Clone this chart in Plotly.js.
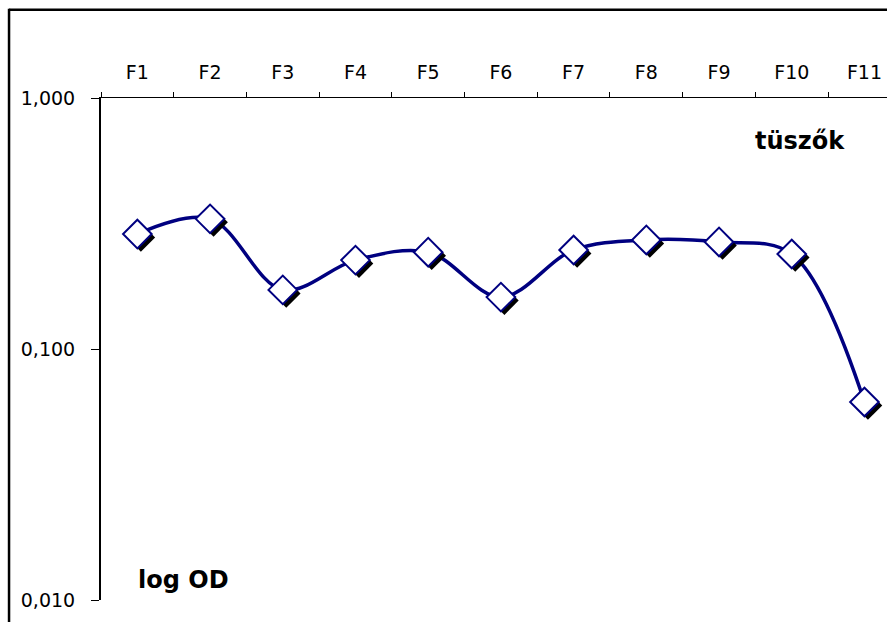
<!DOCTYPE html>
<html>
<head>
<meta charset="utf-8">
<script src="https://cdn.plot.ly/plotly-3.0.1.min.js"></script>
<style>html,body{margin:0;padding:0;background:#fff;}#chart{width:887px;height:622px;}</style>
</head>
<body>
<div id="chart"></div>
<script>
const categories = ["F1","F2","F3","F4","F5","F6","F7","F8","F9","F10","F11"];
const odValues = [0.287, 0.330, 0.172, 0.226, 0.243, 0.161, 0.248, 0.272, 0.267, 0.239, 0.0615];
const yTickVals = [0.01, 0.1, 1];
const yTickText = ["0,010", "0,100", "1,000"];

const tickFont = "DejaVu Sans, Liberation Sans, Arial, sans-serif";
const boldFont = "DejaVu Sans, Liberation Sans, Arial, sans-serif";
const xRange = [-0.5, 10.31];
const yRange = [-2, 0];
const dx = 3.5 / 72.7;   // shadow offset right
const dy = 3.5 / 251;    // shadow offset down (log decades)

const traces = [
  {
    x: categories, y: odValues, type: "scatter", mode: "lines",
    line: {color: "#000080", width: 3.5, shape: "spline", smoothing: 1},
    hoverinfo: "skip", showlegend: false
  },
  {
    x: categories, y: odValues, type: "scatter", mode: "markers",
    xaxis: "x2", yaxis: "y2",
    marker: {symbol: "diamond", size: 22, color: "#000000", line: {width: 0}},
    hoverinfo: "skip", showlegend: false
  },
  {
    x: categories, y: odValues, type: "scatter", mode: "markers",
    xaxis: "x3", yaxis: "y3",
    marker: {symbol: "diamond", size: 22, color: "#ffffff", line: {color: "#000080", width: 2}},
    hoverinfo: "skip", showlegend: false
  }
];

const layout = {
  width: 887, height: 622,
  margin: {l: 101, r: 0, t: 98, b: 22, pad: 0},
  paper_bgcolor: "#ffffff", plot_bgcolor: "#ffffff",
  separators: ",.",
  showlegend: false,
  xaxis: {
    type: "category", side: "top", range: xRange,
    showline: true, linecolor: "#000", linewidth: 1.5,
    ticks: "outside", tickson: "boundaries", ticklen: 5, tickcolor: "#000", tickwidth: 1,
    showgrid: false, zeroline: false,
    tickfont: {family: tickFont, size: 19, color: "#000"},
    ticklabelstandoff: 10
  },
  yaxis: {
    type: "log", range: yRange,
    showline: true, linecolor: "#000", linewidth: 2,
    ticks: "outside", ticklen: 8, tickcolor: "#000", tickwidth: 1,
    tickvals: yTickVals, ticktext: yTickText,
    showgrid: false, zeroline: false,
    tickfont: {family: tickFont, size: 19, color: "#000"},
    ticklabelstandoff: 12
  },
  xaxis2: {type: "category", overlaying: "x", range: [xRange[0] - dx, xRange[1] - dx], visible: false, side: "top"},
  yaxis2: {type: "log", overlaying: "y", range: [yRange[0] + dy, yRange[1] + dy], visible: false},
  xaxis3: {type: "category", overlaying: "x", range: xRange, visible: false, side: "top"},
  yaxis3: {type: "log", overlaying: "y", range: yRange, visible: false},
  annotations: [
    {text: "<b>tüszők</b>", xref: "paper", yref: "paper", x: 0.889, y: 0.915, xanchor: "center", yanchor: "middle",
     showarrow: false, font: {family: boldFont, size: 24, color: "#000"}},
    {text: "<b>log OD</b>", xref: "paper", yref: "paper", x: 0.105, y: 0.04, xanchor: "center", yanchor: "middle",
     showarrow: false, font: {family: boldFont, size: 24, color: "#000"}}
  ],
  shapes: [
    {type: "line", xref: "paper", yref: "paper", x0: -0.117, x1: -0.117, y0: 1.178, y1: -0.1,
     line: {color: "#000", width: 2.5}},
    {type: "line", xref: "paper", yref: "paper", x0: -0.117, x1: 1.1, y0: 1.176, y1: 1.176,
     line: {color: "#000", width: 2.5}}
  ]
};

Plotly.newPlot("chart", traces, layout, {staticPlot: true, displayModeBar: false});
</script>
</body>
</html>
